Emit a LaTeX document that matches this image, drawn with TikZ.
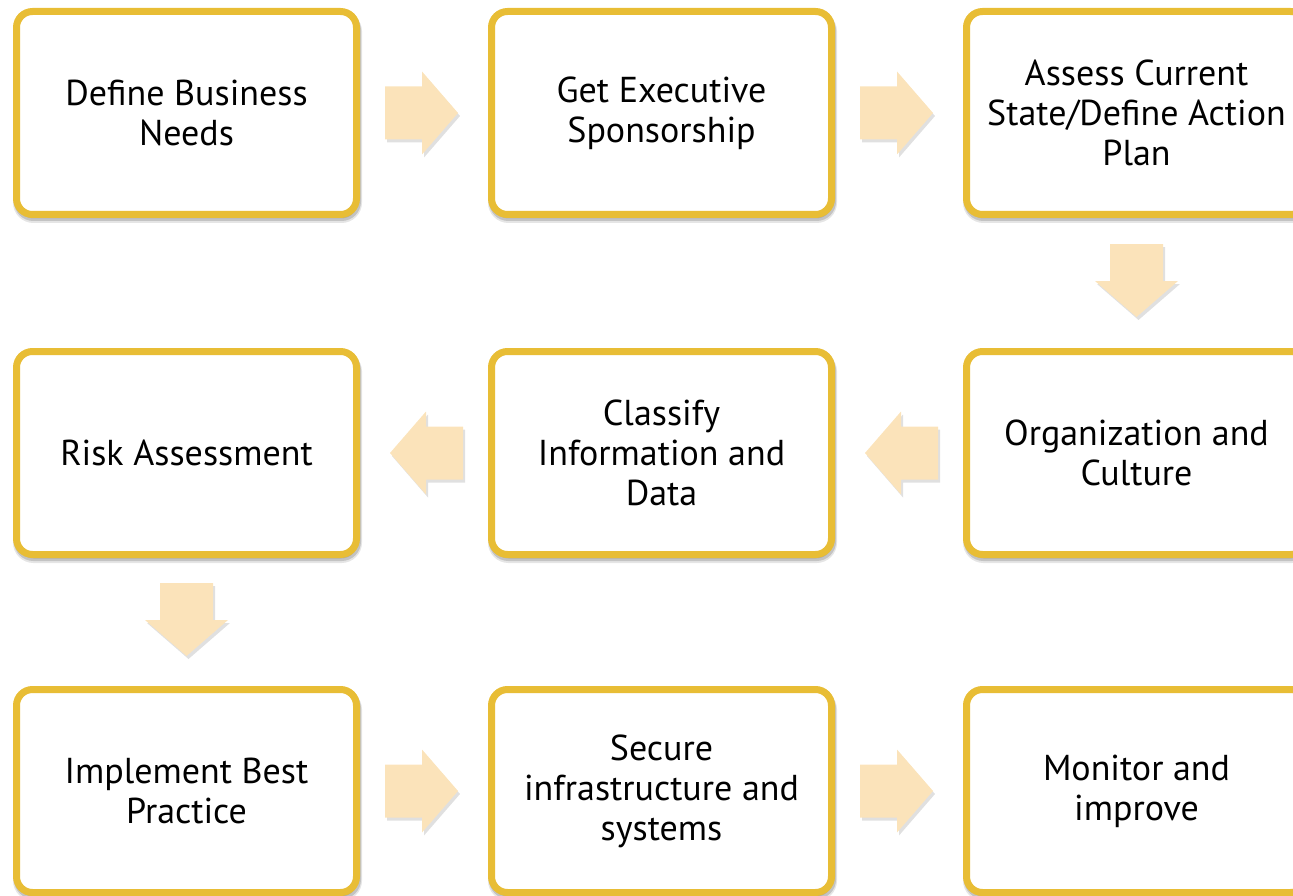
\documentclass[tikz,border=0pt]{standalone}
\usepackage{fontspec}
\setmainfont{PT Sans}
\usetikzlibrary{shadows,calc}
\definecolor{gold}{HTML}{E8BD35}
\definecolor{peach}{HTML}{FBE3BA}
\tikzset{
  stepbox/.style={rectangle, rounded corners=16pt, draw=gold, fill=white, line width=7pt,
    minimum width=340pt, minimum height=203pt, align=center, inner sep=0pt,
    font=\fontsize{36}{40}\selectfont, text=black,
    general shadow={shadow xshift=1pt, shadow yshift=-4pt, draw=black, fill=black, line width=9pt, opacity=0.10},
    general shadow={shadow xshift=1pt, shadow yshift=-3pt, draw=black, fill=black, line width=7pt, opacity=0.15}},
  blockarrow/.style={fill=peach},
  arrowshadow/.style={fill=black, opacity=0.12},
}
\newcommand{\blockarr}[2]{%
  \fill[arrowshadow, shift={(#1)}, xshift=2pt, yshift=-3pt, rotate=#2] (-39,-26.5) -- (-2,-26.5) -- (-2,-41.5) -- (34,0) -- (-2,41.5) -- (-2,26.5) -- (-39,26.5) -- cycle;
  \fill[blockarrow, shift={(#1)}, rotate=#2] (-39,-26.5) -- (-2,-26.5) -- (-2,-41.5) -- (34,0) -- (-2,41.5) -- (-2,26.5) -- (-39,26.5) -- cycle;}
\begin{document}
\begin{tikzpicture}[x=1pt,y=-1pt]
\useasboundingbox (0,0) rectangle (1293,896);
\clip (0,0) rectangle (1293,896);
\node[stepbox] (b1) at (186.5,113) {Define Business\\Needs};
\node[stepbox] (b2) at (661.5,113) {Get Executive\\Sponsorship};
\node[stepbox] (b3) at (1136.5,113) {Assess Current\\State/Define Action\\Plan};
\node[stepbox] (b4) at (1136.5,453) {Organization and\\Culture};
\node[stepbox] (b5) at (661.5,453) {Classify\\Information and\\Data};
\node[stepbox] (b6) at (186.5,453) {Risk Assessment};
\node[stepbox] (b7) at (186.5,791) {Implement Best\\Practice};
\node[stepbox] (b8) at (661.5,791) {Secure\\infrastructure and\\systems};
\node[stepbox] (b9) at (1136.5,791) {Monitor and\\improve};
\coordinate (m12) at ($(b1.east)!0.5!(b2.west)$);
\coordinate (m23) at ($(b2.east)!0.5!(b3.west)$);
\coordinate (m34) at ($(b3.south)!0.5!(b4.north)$);
\coordinate (m45) at ($(b4.west)!0.5!(b5.east)$);
\coordinate (m56) at ($(b5.west)!0.5!(b6.east)$);
\coordinate (m67) at ($(b6.south)!0.5!(b7.north)$);
\coordinate (m78) at ($(b7.east)!0.5!(b8.west)$);
\coordinate (m89) at ($(b8.east)!0.5!(b9.west)$);
\blockarr{m12}{0}
\blockarr{m23}{0}
\blockarr{m34}{-90}
\blockarr{m45}{180}
\blockarr{m56}{180}
\blockarr{m67}{-90}
\blockarr{m78}{0}
\blockarr{m89}{0}
\end{tikzpicture}
\end{document}
